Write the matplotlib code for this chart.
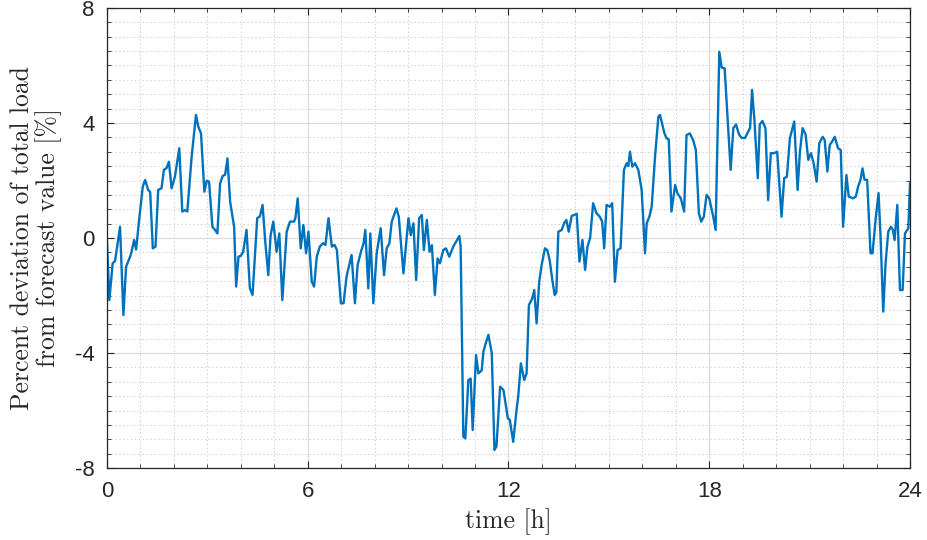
import matplotlib.pyplot as plt
from matplotlib.ticker import MultipleLocator

plt.rcParams['font.family'] = 'Liberation Sans'
plt.rcParams['axes.unicode_minus'] = False

# hour of day and deviation [%]
hours = [0.00, 0.07, 0.17, 0.24, 0.39, 0.49, 0.57, 0.69, 0.73, 0.81, 0.87, 0.97,
         1.07, 1.14, 1.23, 1.29, 1.37, 1.45, 1.53, 1.63, 1.70, 1.78, 1.85, 1.93,
         2.03, 2.16, 2.25, 2.33, 2.40, 2.53, 2.66, 2.73, 2.81, 2.91, 2.98, 3.05,
         3.15, 3.23, 3.30, 3.38, 3.46, 3.53, 3.60, 3.68, 3.80, 3.86, 3.93, 4.00,
         4.07, 4.17, 4.27, 4.35, 4.49, 4.57, 4.65, 4.73, 4.82, 4.89, 4.97, 5.07,
         5.15, 5.24, 5.37, 5.47, 5.59, 5.63, 5.70, 5.79, 5.87, 5.95, 6.02, 6.12,
         6.19, 6.27, 6.36, 6.46, 6.53, 6.62, 6.72, 6.80, 6.87, 6.99, 7.07, 7.16,
         7.31, 7.41, 7.49, 7.59, 7.67, 7.72, 7.81, 7.87, 7.96, 8.06, 8.18, 8.28,
         8.36, 8.44, 8.51, 8.65, 8.72, 8.86, 9.01, 9.08, 9.16, 9.24, 9.33, 9.41,
         9.47, 9.56, 9.64, 9.71, 9.80, 9.88, 9.95, 10.05, 10.13, 10.23, 10.35, 10.53,
         10.57, 10.65, 10.71, 10.80, 10.87, 10.93, 11.03, 11.10, 11.20, 11.25, 11.32, 11.40,
         11.50, 11.58, 11.64, 11.75, 11.85, 11.98, 12.04, 12.14, 12.24, 12.29, 12.37, 12.47,
         12.54, 12.61, 12.71, 12.77, 12.84, 12.92, 12.99, 13.09, 13.16, 13.23, 13.31, 13.38,
         13.43, 13.49, 13.59, 13.66, 13.73, 13.80, 13.89, 13.96, 14.04, 14.12, 14.21, 14.29,
         14.36, 14.44, 14.53, 14.63, 14.73, 14.80, 14.86, 14.93, 15.03, 15.10, 15.18, 15.26,
         15.35, 15.45, 15.53, 15.58, 15.63, 15.70, 15.78, 15.88, 15.98, 16.08, 16.13, 16.21,
         16.28, 16.38, 16.48, 16.53, 16.66, 16.73, 16.79, 16.87, 16.98, 17.05, 17.15, 17.25,
         17.32, 17.42, 17.52, 17.60, 17.69, 17.76, 17.84, 17.92, 18.00, 18.12, 18.19, 18.30,
         18.37, 18.46, 18.54, 18.64, 18.72, 18.80, 18.89, 18.97, 19.07, 19.17, 19.22, 19.28,
         19.35, 19.45, 19.51, 19.59, 19.68, 19.76, 19.84, 19.93, 20.03, 20.16, 20.24, 20.32,
         20.41, 20.54, 20.64, 20.71, 20.79, 20.88, 20.96, 21.04, 21.12, 21.21, 21.29, 21.39,
         21.45, 21.53, 21.60, 21.67, 21.75, 21.85, 21.93, 22.00, 22.10, 22.17, 22.30, 22.38,
         22.45, 22.52, 22.58, 22.64, 22.72, 22.82, 22.88, 22.98, 23.06, 23.12, 23.20, 23.27,
         23.35, 23.43, 23.49, 23.54, 23.62, 23.70, 23.78, 23.85, 23.95, 24.00]

deviation = [-0.13, -2.16, -0.88, -0.80, 0.39, -2.68, -1.00, -0.65, -0.50, -0.07, -0.40, 0.74,
             1.79, 2.02, 1.67, 1.60, -0.36, -0.30, 1.67, 1.73, 2.37, 2.43, 2.65, 1.73,
             2.13, 3.12, 0.92, 0.97, 0.92, 2.83, 4.28, 3.87, 3.64, 1.61, 1.99, 1.96,
             0.39, 0.28, 0.16, 1.90, 2.16, 2.20, 2.77, 1.26, 0.39, -1.69, -0.65, -0.62,
             -0.48, 0.28, -1.75, -1.98, 0.69, 0.75, 1.15, -0.13, -1.29, 0.10, 0.57, -0.48,
             0.16, -2.16, 0.22, 0.57, 0.57, 0.69, 1.38, -0.36, 0.45, -0.53, 0.22, -1.52,
             -1.69, -0.65, -0.30, -0.18, -0.24, 0.69, -0.30, -0.24, -0.41, -2.27, -2.27, -1.34,
             -0.59, -2.27, -0.94, -0.48, -0.18, 0.28, -1.75, 0.16, -2.27, -0.53, 0.34, -1.29,
             -0.36, -0.18, 0.57, 1.03, 0.75, -1.23, 0.69, 0.10, 0.51, -1.46, 0.69, 0.80,
             -0.42, 0.63, -0.48, -0.25, -1.98, -0.71, -0.88, -0.42, -0.36, -0.65, -0.30, 0.07,
             -0.30, -6.91, -6.97, -4.94, -4.89, -6.68, -4.07, -4.71, -4.60, -3.95, -3.66, -3.37,
             -4.00, -7.37, -7.25, -5.17, -5.29, -6.27, -6.33, -7.09, -5.98, -5.52, -4.36, -4.94,
             -4.71, -2.33, -2.10, -1.81, -2.97, -1.50, -0.94, -0.36, -0.42, -0.77, -1.46, -1.98,
             -1.90, 0.22, 0.28, 0.51, 0.63, 0.22, 0.77, 0.80, 0.84, -0.82, -0.07, -1.11,
             -0.30, 0.00, 1.21, 0.86, 0.74, 0.57, -0.36, 1.15, 1.09, 1.21, -1.52, -0.42,
             -0.36, 2.37, 2.60, 2.50, 3.00, 2.48, 2.60, 2.37, 1.67, -0.53, 0.51, 0.74,
             1.09, 2.83, 4.22, 4.28, 3.64, 3.46, 3.43, 0.92, 1.84, 1.55, 1.38, 0.92,
             3.58, 3.64, 3.40, 3.06, 0.86, 0.57, 0.75, 1.50, 1.38, 0.74, 0.28, 6.48,
             5.93, 5.90, 4.34, 2.37, 3.82, 3.95, 3.60, 3.48, 3.48, 3.72, 3.82, 5.15,
             4.10, 2.08, 3.95, 4.07, 3.82, 1.32, 2.95, 2.95, 3.00, 0.74, 2.08, 2.13,
             3.47, 4.05, 1.67, 3.00, 3.82, 3.60, 2.72, 2.95, 2.60, 1.96, 3.30, 3.52,
             3.41, 2.31, 3.23, 3.35, 3.52, 3.12, 3.06, 0.39, 2.19, 1.44, 1.38, 1.44,
             1.79, 2.02, 2.42, 2.03, 2.02, -0.53, -0.53, 0.74, 1.56, 0.05, -2.56, -0.88,
             0.22, 0.39, 0.28, -0.07, 1.15, -1.81, -1.81, 0.16, 0.34, 1.90]

x_ticks = [0, 6, 12, 18, 24]
y_ticks = [-8, -4, 0, 4, 8]

fig = plt.figure(figsize=(9.28, 5.4), dpi=100)
ax = fig.add_axes([0.1153, 0.1333, 0.8653, 0.8519])

ax.plot(hours, deviation, color='#0072BD', linewidth=1.7)

ax.set_xlim(0, 24)
ax.set_ylim(-8, 8)
ax.set_xticks(x_ticks)
ax.set_yticks(y_ticks)
ax.xaxis.set_minor_locator(MultipleLocator(1))
ax.yaxis.set_minor_locator(MultipleLocator(0.5))

# matlab-ish grid: solid major, dotted minor
ax.grid(which='major', color='#dcdcdc', linestyle='-', linewidth=0.9)
ax.grid(which='minor', color='#cfcfcf', linestyle=(0, (1.5, 2.5)), linewidth=0.7)
ax.set_axisbelow(True)

ax.tick_params(which='both', direction='in', top=True, right=True, color='#262626')
ax.tick_params(which='major', length=5, width=0.8, labelsize=16, pad=9,
               labelcolor='#262626')
ax.tick_params(which='minor', length=3, width=0.6)
for sp in ax.spines.values():
    sp.set_color('#262626')
    sp.set_linewidth(0.9)

ax.set_xlabel('time [h]', fontfamily='cmr10', fontsize=18.5, color='#262626', labelpad=5)
ax.set_ylabel('Percent deviation of total load\nfrom forecast value [%]',
              fontfamily='cmr10', fontsize=18.5, color='#262626', labelpad=9,
              linespacing=1.08)

fig.savefig('out.png', dpi=100)
